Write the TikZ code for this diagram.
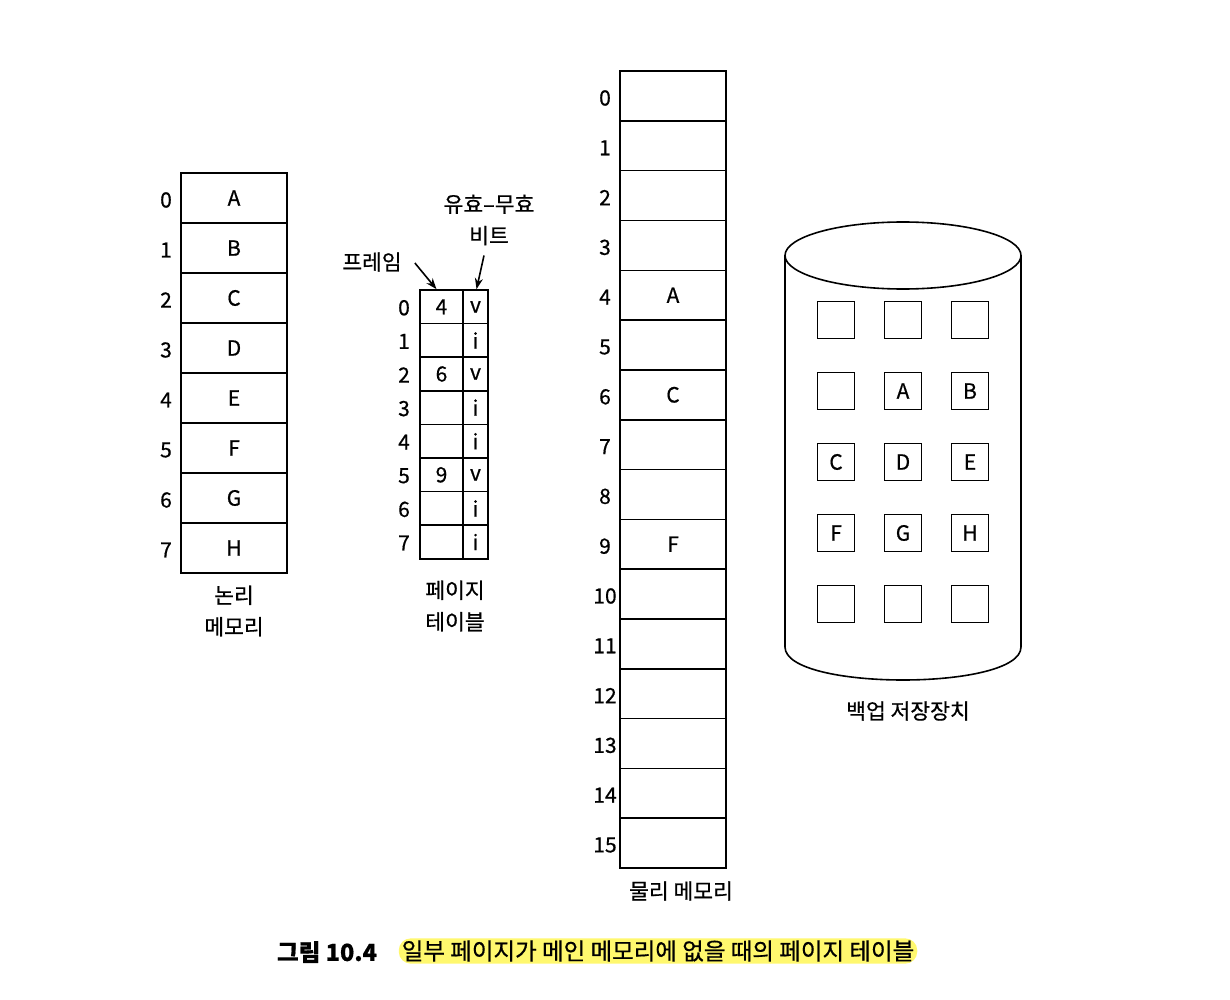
\documentclass[tikz,border=0pt]{standalone}
\usepackage{fontspec}
\setmainfont{Noto Sans CJK KR}[FakeBold=0.6]
\usetikzlibrary{arrows.meta}
\newcommand\dtxt{\fontsize{21}{32}\selectfont}
\newcommand\ktxt{\fontsize{21.5}{31.5}\selectfont}
\newcommand\ctxt{\fontsize{23.5}{26}\selectfont}
\definecolor{hl}{RGB}{255,248,110}
\tikzset{
 lm/.style={draw, line width=1.6pt, minimum width=106pt, minimum height=50pt, inner sep=0pt, font=\dtxt},
 pm/.style={draw, line width=1.6pt, minimum width=106pt, minimum height=49.8pt, inner sep=0pt, font=\dtxt},
 ptf/.style={draw, line width=1.6pt, minimum width=43pt, minimum height=33.6pt, inner sep=0pt, font=\dtxt},
 ptv/.style={draw, line width=1.6pt, minimum width=25pt, minimum height=33.6pt, inner sep=0pt, font=\dtxt},
 idx/.style={font=\dtxt, inner sep=0pt},
 sq/.style={draw, line width=1.6pt, minimum size=37pt, inner sep=0pt, font=\dtxt},
 lbl/.style={font=\ktxt, inner sep=0pt, align=center},
 arr/.style={-{Stealth[length=11pt,width=8pt]}, line width=1.6pt},
 cyl/.style={line width=1.6pt}
}
\begin{document}
\begin{tikzpicture}[x=1pt,y=-1pt]
\useasboundingbox (0,0) rectangle (1230,1000);
% logical memory
\foreach \l [count=\i from 0] in {A,B,C,D,E,F,G,H} {
  \node[lm] (lm\i) at (234,{198+50*\i}) {\l};
  \node[idx] (lmi\i) at (166,{200+50*\i}) {\i};
}
\node[lbl] (lmlbl) at (234,611) {논리\\메모리};
% page table
\foreach \f/\v [count=\i from 0] in {4/v,{}/i,6/v,{}/i,{}/i,9/v,{}/i,{}/i} {
  \node[ptf] (ptf\i) at (441.5,{306.8+33.6*\i}) {\f};
  \node[ptv] (ptv\i) at (475.5,{306.8+33.6*\i}) {\v};
  \node[idx] (pti\i) at (404,{307.8+33.6*\i}) {\i};
}
\node[lbl] (ptlbl) at (455,606) {페이지\\테이블};
\node[lbl] (frlbl) at (372,262) {프레임};
\node[lbl] (vblbl) at (489,220) {유효--무효\\비트};
\draw[arr] ([xshift=13pt,yshift=-1pt]frlbl.east) -- ([xshift=-5pt]ptf0.north);
\draw[arr] ([xshift=-5pt,yshift=-10pt]vblbl.south) -- ([xshift=1pt]ptv0.north);
% physical memory
\foreach \c [count=\i from 0] in {{},{},{},{},A,{},C,{},{},F,{},{},{},{},{},{}} {
  \node[pm] (pm\i) at (673,{96+49.8*\i}) {\c};
  \node[idx] (pmi\i) at (605,{98+49.8*\i}) {\i};
}
\node[lbl] (pmlbl) at (681,891) {물리 메모리};
% backing store
\draw[cyl] (903,255.5) ellipse [x radius=118pt, y radius=33.5pt];
\draw[cyl] (785,255.5) -- (785,647) .. controls (785,691) and (1021,691) .. (1021,647) -- (1021,255.5);
\foreach \c [count=\k from 0] in {{},{},{},{},A,B,C,D,E,F,G,H,{},{},{}} {
  \pgfmathtruncatemacro\col{mod(\k,3)}
  \pgfmathtruncatemacro\row{int(\k/3)}
  \node[sq] (sq\k) at ({836+67*\col},{320+71*\row}) {\c};
}
\node[lbl] (bslbl) at (908,711) {백업 저장장치};
% caption
\node[font=\ctxt\bfseries, inner sep=0pt] (cnum) at (327,952) {그림 10.4};
\node[font=\ctxt, fill=hl, rounded corners=12pt, inner xsep=3pt, inner ysep=2pt] (ctext) at (658,951) {일부 페이지가 메인 메모리에 없을 때의 페이지 테이블};
\end{tikzpicture}
\end{document}
